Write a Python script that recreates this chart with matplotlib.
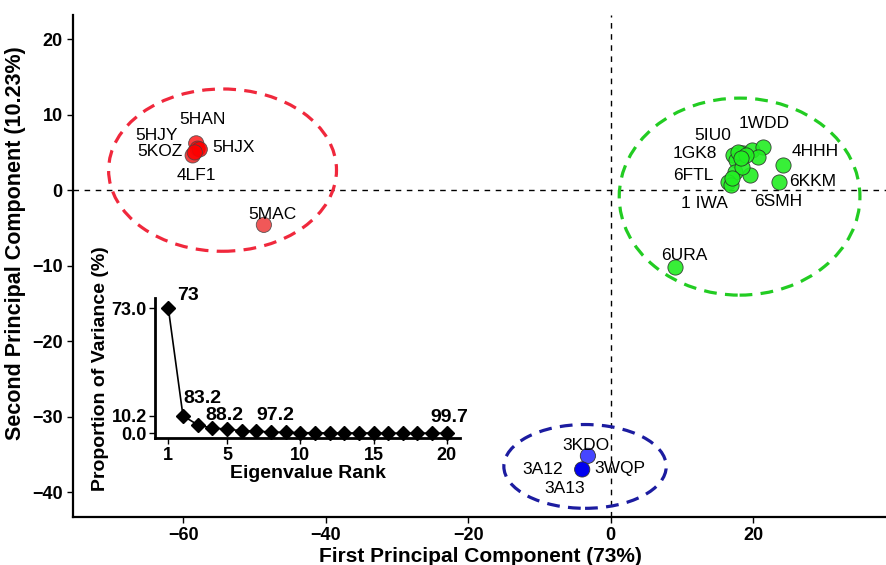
import matplotlib.pyplot as plt
from matplotlib.patches import Ellipse
import numpy as np

plt.rcParams['font.family'] = ['Liberation Sans', 'DejaVu Sans']

# PCA scores
red_x = [-58.2, -58.0, -58.7, -57.7, -58.4, -48.7]
red_y = [6.2, 5.5, 4.6, 5.4, 5.0, -4.6]
red_c = ['#ff1a1a', '#ff0000', '#ee2020', '#ff0000', '#ff0000', '#ee3b3b']

green_x = [18.1, 18.6, 19.8, 21.4, 20.7, 17.2, 17.6, 17.4, 19.5, 16.5, 16.9,
           24.2, 23.6, 18.4, 17.9, 19.0, 18.3, 17.0, 9.1]
green_y = [4.9, 4.9, 5.3, 5.7, 4.4, 4.6, 4.0, 2.4, 2.0, 1.1, 0.7,
           3.3, 1.1, 3.1, 5.0, 4.6, 4.2, 1.6, -10.2]

blue_x = [-3.2, -4.0]
blue_y = [-35.2, -37.0]
blue_c = ['#4646ff', '#0000f0']

# point labels and where they sit
red_names = ['5HAN', '5HJY', '5KOZ', '5HJX', '4LF1', '5MAC']
red_lab_x = [-57.3, -63.8, -63.3, -53.0, -58.2, -47.5]
red_lab_y = [9.3, 7.3, 5.1, 5.6, 2.0, -3.2]

green_names = ['1WDD', '5IU0', '1GK8', '4HHH', '6FTL', '6KKM', '1 IWA', '6SMH', '6URA']
green_lab_x = [21.6, 14.4, 11.8, 28.7, 11.6, 28.4, 13.2, 23.5, 10.4]
green_lab_y = [8.8, 7.3, 4.9, 5.1, 2.0, 1.1, -1.8, -1.5, -8.7]

blue_names = ['3KDO', '3A12', '3WQP', '3A13']
blue_lab_x = [-3.5, -9.5, 1.3, -6.5]
blue_lab_y = [-33.8, -37.0, -36.9, -39.5]

# group ellipses: centre x, centre y, width, height
ell_red = [-54.5, 2.65, 32.0, 21.5]
ell_green = [18.1, -0.86, 33.8, 26.1]
ell_blue = [-3.6, -36.6, 22.8, 11.1]

# scree plot
ranks = np.arange(1, 21)
variance = [73.0, 10.2, 5.0, 3.0, 2.5, 1.5, 1.2, 0.8, 0.5, 0.4,
            0.3, 0.2, 0.2, 0.2, 0.2, 0.1, 0.1, 0.1, 0.1, 0.1]
cum_labels = ['73', '83.2', '88.2', '97.2', '99.7']
cum_lab_x = [1.6, 2.0, 3.5, 7.0, 18.9]
cum_lab_y = [80.6, 20.4, 10.7, 10.7, 9.3]

fig = plt.figure(figsize=(8.87, 5.65), dpi=100)
ax = fig.add_axes([73/887, 1-517/565, 1-73/887, (517-15)/565])

ax.axhline(0, color='black', lw=1, ls=(0, (4, 4)), zorder=1)
ax.axvline(0, color='black', lw=1, ls=(0, (4, 4)), zorder=1)

for e, col in [(ell_red, '#f0283c'), (ell_green, '#22cc22'), (ell_blue, '#1c1ca0')]:
    ax.add_patch(Ellipse((e[0], e[1]), e[2], e[3], fill=False, edgecolor=col,
                         lw=2.3, ls=(0, (4, 2.6)), zorder=2))

ax.scatter(red_x, red_y, s=120, c=red_c, edgecolors='#444444', linewidths=0.6,
           alpha=0.85, zorder=3)
ax.scatter(green_x, green_y, s=120, c='#22ee22', edgecolors='#2a2a2a', linewidths=0.6,
           alpha=0.9, zorder=3)
ax.scatter(blue_x, blue_y, s=120, c=blue_c, edgecolors='#333333', linewidths=0.6,
           zorder=3)

for names, lx, ly in [(red_names, red_lab_x, red_lab_y),
                      (green_names, green_lab_x, green_lab_y),
                      (blue_names, blue_lab_x, blue_lab_y)]:
    for n, x, y in zip(names, lx, ly):
        ax.text(x, y, n, fontsize=12.5, ha='center', va='center', zorder=4)

ax.set_xlim(-75.5, 38.8)
ax.set_ylim(-43.3, 23.2)
ax.set_xticks([-60, -40, -20, 0, 20])
ax.set_yticks([-40, -30, -20, -10, 0, 10, 20])
for s in ['top', 'right']:
    ax.spines[s].set_visible(False)
for s in ['left', 'bottom']:
    ax.spines[s].set_linewidth(1.6)
ax.tick_params(labelsize=13, width=1, length=4)
for t in ax.get_xticklabels() + ax.get_yticklabels():
    t.set_fontweight('bold')
ax.set_xlabel('First Principal Component (73%)', fontsize=15, fontweight='bold', labelpad=2)
ax.set_ylabel('Second Principal Component (10.23%)', fontsize=15.5, fontweight='bold')
ax.yaxis.set_label_coords(-0.058, 0.545)

# inset scree plot
ins = fig.add_axes([155/887, 1-438.3/565, (460-155)/887, (438.3-298)/565])
ins.patch.set_alpha(0)
ins.plot(ranks, variance, color='black', lw=1.2, marker='D', markersize=7, zorder=3,
         clip_on=False)
for t, x, y in zip(cum_labels, cum_lab_x, cum_lab_y):
    ins.text(x, y, t, fontsize=14, fontweight='bold', ha='left', va='center')
ins.set_xlim(0.09, 20.9)
ins.set_ylim(-2.9, 79.0)
ins.set_xticks([1, 5, 10, 15, 20])
ins.set_yticks([0.0, 10.2, 73.0])
ins.set_yticklabels(['0.0', '10.2', '73.0'])
for s in ['top', 'right']:
    ins.spines[s].set_visible(False)
for s in ['left', 'bottom']:
    ins.spines[s].set_linewidth(2)
ins.tick_params(labelsize=13, width=1, length=4, pad=2)
for t in ins.get_xticklabels() + ins.get_yticklabels():
    t.set_fontweight('bold')
ins.set_xlabel('Eigenvalue Rank', fontsize=14, fontweight='bold', labelpad=1)
ins.set_ylabel('Proportion of Variance (%)', fontsize=14, fontweight='bold', labelpad=2)

fig.savefig('out.png', dpi=100)
